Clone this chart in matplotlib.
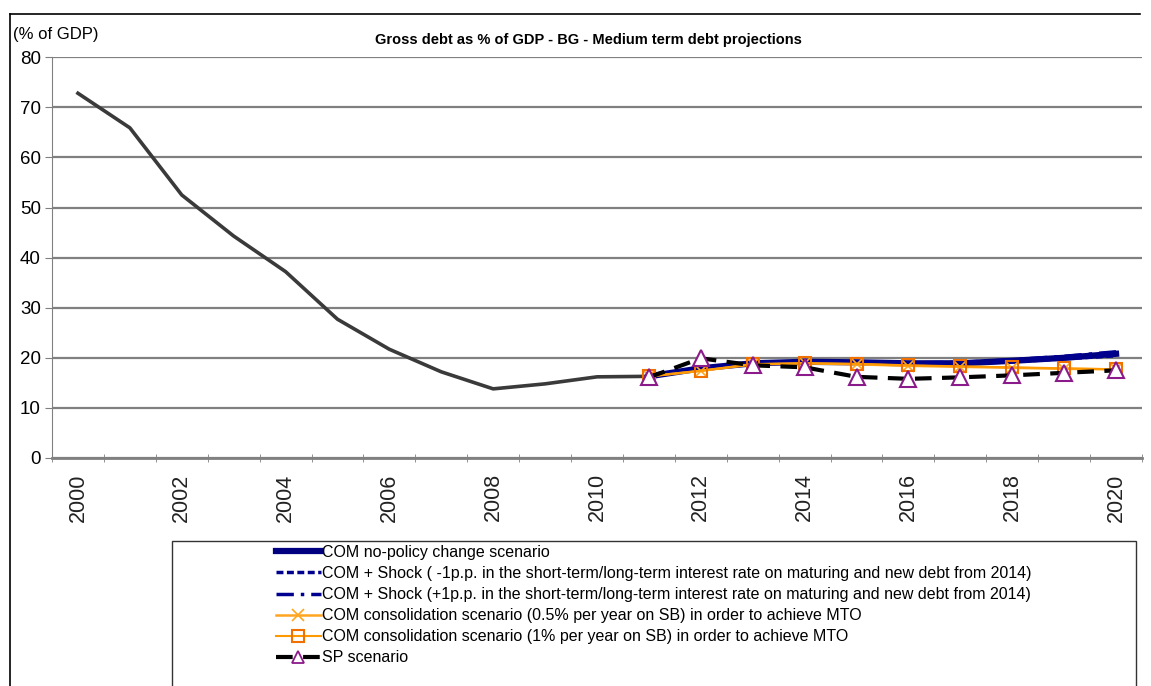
import matplotlib.pyplot as plt
from matplotlib.lines import Line2D
from matplotlib.patches import Rectangle

years = list(range(2000, 2021))
hist_years = list(range(2000, 2012))
hist = [72.8, 65.9, 52.5, 44.3, 37.2, 27.7, 21.7, 17.2, 13.8, 14.8, 16.2, 16.3]

proj_years = list(range(2011, 2021))
com_nopolicy = [16.3, 17.9, 18.9, 19.2, 19.1, 18.9, 18.9, 19.4, 20.0, 20.8]
com_shock_minus = [16.3, 17.9, 18.9, 19.1, 19.0, 18.8, 18.8, 19.2, 19.8, 20.4]
com_shock_plus = [16.3, 17.9, 18.9, 19.2, 19.2, 19.0, 19.1, 19.6, 20.3, 21.2]
com_cons_05 = [16.3, 17.4, 18.7, 18.9, 18.7, 18.4, 18.2, 18.0, 17.8, 17.7]
com_cons_1 = [16.3, 17.4, 18.7, 18.9, 18.8, 18.5, 18.3, 18.1, 17.9, 17.7]
sp = [16.1, 19.9, 18.5, 18.1, 16.2, 15.8, 16.1, 16.5, 17.0, 17.5]

labels = ['COM no-policy change scenario',
          'COM + Shock ( -1p.p. in the short-term/long-term interest rate on maturing and new debt from 2014)',
          'COM + Shock (+1p.p. in the short-term/long-term interest rate on maturing and new debt from 2014)',
          'COM consolidation scenario (0.5% per year on SB) in order to achieve MTO',
          'COM consolidation scenario (1% per year on SB) in order to achieve MTO',
          'SP scenario']

plt.rcParams['font.family'] = ['Liberation Sans', 'DejaVu Sans']

fig = plt.figure(figsize=(11.51, 6.86), dpi=100)
W, H = 1151, 686
ax = fig.add_axes([52 / W, 1 - 458 / H, (1142 - 52) / W, (458 - 57.2) / H])

def xi(ys):
    return [y - 2000 for y in ys]

ax.plot(xi(hist_years), hist, color='#3a3a3a', lw=2.6, zorder=3)
ax.plot(xi(proj_years), com_nopolicy, color='#000080', lw=4.5, zorder=4)
ax.plot(xi(proj_years), com_shock_minus, color='#000090', lw=2.5, ls=(0, (2, 1)), zorder=4)
ax.plot(xi(proj_years), com_shock_plus, color='#000090', lw=2.5, ls=(0, (5, 2, 1, 2)), zorder=4)
ax.plot(xi(proj_years), com_cons_05, color='#FFA520', lw=1.8, marker='x', ms=9, mew=1.2, zorder=5)
ax.plot(xi(proj_years), com_cons_1, color='#FF9900', lw=1.5, marker='s', ms=9, mfc='none',
        mec='#F07000', mew=1.5, zorder=5)
ax.plot(xi(proj_years), sp, color='black', lw=3, ls=(0, (4, 2.5)), marker='^', ms=12,
        mfc='white', mec='#8B1A8B', mew=1.5, zorder=6)

ax.set_xlim(-0.5, 20.27)
ax.set_ylim(0, 80)
ax.set_yticks(range(0, 81, 10))
ax.yaxis.grid(True, color='#808080', lw=1.6)
ax.set_axisbelow(True)
ax.tick_params(axis='y', labelsize=13.5, length=5, color='#808080', pad=3)
ax.set_xticks(range(0, 21, 2))
ax.set_xticklabels([str(y) for y in years[::2]], rotation=90, fontsize=15.5, color='#222222')
ax.set_xticks([k + 0.5 for k in range(-1, 21)], minor=True)
ax.tick_params(axis='x', which='major', length=0, pad=11)
ax.tick_params(axis='x', which='minor', length=6, direction='inout', color='#808080')
for s in ['top', 'right']:
    ax.spines[s].set_visible(False)
ax.spines['left'].set_color('#808080')
ax.spines['bottom'].set_color('#808080')
ax.spines['bottom'].set_linewidth(2)

fig.text(13 / W, 1 - 35 / H, '(% of GDP)', fontsize=12, va='center', ha='left')
fig.text(588 / W, 1 - 40 / H, 'Gross debt as % of GDP - BG - Medium term debt projections',
         fontsize=10.5, fontweight='bold', ha='center', va='center')

# outer chart border (top and left only, the rest is cut off) and legend box
fig.add_artist(Line2D([10 / W, 1140 / W], [1 - 14 / H, 1 - 14 / H], transform=fig.transFigure,
                      color='black', lw=1.2))
fig.add_artist(Line2D([10 / W, 10 / W], [1 - 14 / H, 0], transform=fig.transFigure,
                      color='black', lw=1.2))
fig.patches.append(Rectangle((172 / W, -0.1), (1136 - 172) / W, 0.1 + 1 - 541 / H,
                             transform=fig.transFigure, fill=False, ec='#333333', lw=1))

handles = [
    Line2D([], [], color='#000080', lw=4.5),
    Line2D([], [], color='#000090', lw=2.5, ls=(0, (2, 1))),
    Line2D([], [], color='#000090', lw=2.5, ls=(0, (5, 2, 1, 2))),
    Line2D([], [], color='#FFA520', lw=1.8, marker='x', ms=9, mew=1.2),
    Line2D([], [], color='#FF9900', lw=1.5, marker='s', ms=9, mfc='none', mec='#F07000', mew=1.5),
    Line2D([], [], color='black', lw=3, ls=(0, (4, 2.5)), marker='^', ms=9, mfc='white',
           mec='#8B1A8B', mew=1.3),
]
fig.legend(handles, labels, loc='upper left', bbox_to_anchor=(272 / W, 1 - 541 / H),
           frameon=False, fontsize=11.5, handlelength=2.8, handletextpad=0.1,
           labelspacing=0.38, borderaxespad=0, borderpad=0.25)

fig.savefig('out.png', dpi=100)
